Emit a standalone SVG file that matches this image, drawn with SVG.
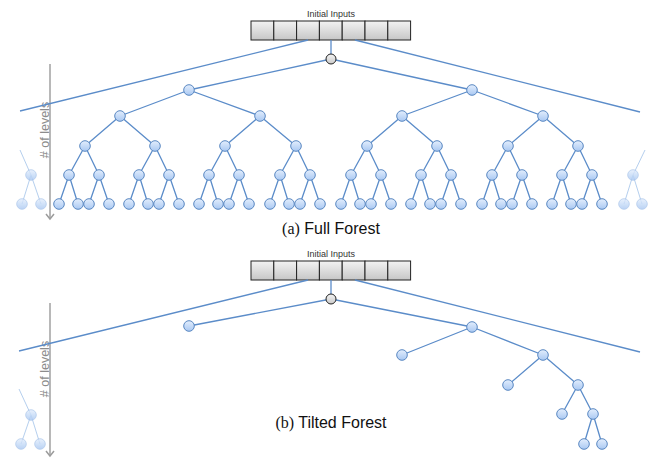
<svg xmlns="http://www.w3.org/2000/svg" width="659" height="459" viewBox="0 0 659 459">
<defs>
<linearGradient id="gNode" x1="0" y1="0" x2="0" y2="1"><stop offset="0" stop-color="#e3eefd"/><stop offset="1" stop-color="#a9c8f2"/></linearGradient>
<linearGradient id="gRoot" x1="0" y1="0" x2="0" y2="1"><stop offset="0" stop-color="#f4f4f4"/><stop offset="1" stop-color="#c9c9c9"/></linearGradient>
<linearGradient id="gBox" x1="0" y1="0" x2="0" y2="1"><stop offset="0" stop-color="#f3f3f3"/><stop offset="1" stop-color="#c6c6c6"/></linearGradient>
<marker id="arr" markerWidth="10" markerHeight="10" refX="8" refY="5" orient="auto" markerUnits="userSpaceOnUse" viewBox="0 0 10 10"><path d="M3,1 L8,5 L3,9" fill="none" stroke="#9c9c9c" stroke-width="1.5"/></marker>
</defs>
<style>
.e{stroke:#5b8cc9;stroke-width:1.3;fill:none}
.f{stroke:#b5cfee;stroke-width:1;fill:none}
.n{fill:url(#gNode);stroke:#5a88c2;stroke-width:1}
.nf{fill:url(#gNode);stroke:#a2c0e8;stroke-width:0.8;opacity:0.8}
.r{fill:url(#gRoot);stroke:#222;stroke-width:1}
.b{fill:url(#gBox);stroke:#222;stroke-width:1}
.t{font-family:"Liberation Sans",Arial,sans-serif;font-size:9px;fill:#333}
.lv{font-family:"Liberation Sans",Arial,sans-serif;font-size:12.5px;fill:#8c8c8c}
.ax{stroke:#a0a0a0;stroke-width:1.5;fill:none}
.cap{font-family:"Liberation Sans",Arial,sans-serif;font-size:16px;fill:#111}
.ser{font-family:"Liberation Serif","Times New Roman",serif}
</style>

<!-- ===== Panel (a) ===== -->
<g id="inputs-a">
<text class="t" x="331" y="16.5" text-anchor="middle">Initial Inputs</text>
<rect class="b" x="251" y="21" width="22.8" height="19"/>
<rect class="b" x="273.8" y="21" width="22.8" height="19"/>
<rect class="b" x="296.6" y="21" width="22.8" height="19"/>
<rect class="b" x="319.4" y="21" width="22.8" height="19"/>
<rect class="b" x="342.2" y="21" width="22.8" height="19"/>
<rect class="b" x="365" y="21" width="22.8" height="19"/>
<rect class="b" x="387.8" y="21" width="22.8" height="19"/>
</g>

<g id="axis-a">
<line class="ax" x1="50" y1="64" x2="50" y2="219" marker-end="url(#arr)"/>
<text class="lv" transform="translate(48.5,130) rotate(-90)" text-anchor="middle"># of levels</text>
</g>

<g id="connectors-a">
<line class="e" x1="308" y1="40" x2="20" y2="111"/>
<line class="e" x1="355" y1="40" x2="640" y2="112"/>
<line class="e" x1="331" y1="40" x2="331" y2="54"/>
<path class="e" d="M331,59 L189,90 M331,59 L472,90
M189,90 L120,116 M189,90 L260,116 M472,90 L402,116 M472,90 L543,116
M120,116 L85,146 M120,116 L155,146 M260,116 L225,146 M260,116 L296,146
M402,116 L367,146 M402,116 L437,146 M543,116 L508,146 M543,116 L578,146
M85,146 L69,175 M85,146 L99,175 M69,175 L59,204 M69,175 L78,204 M99,175 L89,204 M99,175 L109,204
M155,146 L139,175 M155,146 L169,175 M139,175 L129,204 M139,175 L148,204 M169,175 L159,204 M169,175 L179,204
M225,146 L209,175 M225,146 L239,175 M209,175 L199,204 M209,175 L218,204 M239,175 L229,204 M239,175 L249,204
M296,146 L280,175 M296,146 L310,175 M280,175 L270,204 M280,175 L289,204 M310,175 L300,204 M310,175 L320,204
M367,146 L351,175 M367,146 L381,175 M351,175 L341,204 M351,175 L360,204 M381,175 L371,204 M381,175 L391,204
M437,146 L421,175 M437,146 L451,175 M421,175 L411,204 M421,175 L430,204 M451,175 L441,204 M451,175 L461,204
M508,146 L492,175 M508,146 L522,175 M492,175 L482,204 M492,175 L501,204 M522,175 L512,204 M522,175 L532,204
M578,146 L562,175 M578,146 L592,175 M562,175 L552,204 M562,175 L571,204 M592,175 L582,204 M592,175 L602,204"/>
<path class="f" d="M31,175 L20,150 M31,175 L22,204 M31,175 L41,204 M633,175 L645,150 M633,175 L624,204 M633,175 L642,204"/>
</g>

<g id="nodes-a">
<circle class="r" cx="331" cy="59" r="5"/>
<g id="a-l1"><circle class="n" cx="189" cy="90" r="5.3"/><circle class="n" cx="472" cy="90" r="5.3"/></g>
<g id="a-l2"><circle class="n" cx="120" cy="116" r="5.3"/><circle class="n" cx="260" cy="116" r="5.3"/><circle class="n" cx="402" cy="116" r="5.3"/><circle class="n" cx="543" cy="116" r="5.3"/></g>
<g id="a-l3">
<circle class="n" cx="85" cy="146" r="5.3"/><circle class="n" cx="155" cy="146" r="5.3"/><circle class="n" cx="225" cy="146" r="5.3"/><circle class="n" cx="296" cy="146" r="5.3"/>
<circle class="n" cx="367" cy="146" r="5.3"/><circle class="n" cx="437" cy="146" r="5.3"/><circle class="n" cx="508" cy="146" r="5.3"/><circle class="n" cx="578" cy="146" r="5.3"/>
</g>
<g id="a-l4">
<circle class="n" cx="69" cy="175" r="5.3"/><circle class="n" cx="99" cy="175" r="5.3"/><circle class="n" cx="139" cy="175" r="5.3"/><circle class="n" cx="169" cy="175" r="5.3"/>
<circle class="n" cx="209" cy="175" r="5.3"/><circle class="n" cx="239" cy="175" r="5.3"/><circle class="n" cx="280" cy="175" r="5.3"/><circle class="n" cx="310" cy="175" r="5.3"/>
<circle class="n" cx="351" cy="175" r="5.3"/><circle class="n" cx="381" cy="175" r="5.3"/><circle class="n" cx="421" cy="175" r="5.3"/><circle class="n" cx="451" cy="175" r="5.3"/>
<circle class="n" cx="492" cy="175" r="5.3"/><circle class="n" cx="522" cy="175" r="5.3"/><circle class="n" cx="562" cy="175" r="5.3"/><circle class="n" cx="592" cy="175" r="5.3"/>
</g>
<g id="a-l5">
<circle class="n" cx="59" cy="204" r="5.3"/><circle class="n" cx="78" cy="204" r="5.3"/><circle class="n" cx="89" cy="204" r="5.3"/><circle class="n" cx="109" cy="204" r="5.3"/>
<circle class="n" cx="129" cy="204" r="5.3"/><circle class="n" cx="148" cy="204" r="5.3"/><circle class="n" cx="159" cy="204" r="5.3"/><circle class="n" cx="179" cy="204" r="5.3"/>
<circle class="n" cx="199" cy="204" r="5.3"/><circle class="n" cx="218" cy="204" r="5.3"/><circle class="n" cx="229" cy="204" r="5.3"/><circle class="n" cx="249" cy="204" r="5.3"/>
<circle class="n" cx="270" cy="204" r="5.3"/><circle class="n" cx="289" cy="204" r="5.3"/><circle class="n" cx="300" cy="204" r="5.3"/><circle class="n" cx="320" cy="204" r="5.3"/>
<circle class="n" cx="341" cy="204" r="5.3"/><circle class="n" cx="360" cy="204" r="5.3"/><circle class="n" cx="371" cy="204" r="5.3"/><circle class="n" cx="391" cy="204" r="5.3"/>
<circle class="n" cx="411" cy="204" r="5.3"/><circle class="n" cx="430" cy="204" r="5.3"/><circle class="n" cx="441" cy="204" r="5.3"/><circle class="n" cx="461" cy="204" r="5.3"/>
<circle class="n" cx="482" cy="204" r="5.3"/><circle class="n" cx="501" cy="204" r="5.3"/><circle class="n" cx="512" cy="204" r="5.3"/><circle class="n" cx="532" cy="204" r="5.3"/>
<circle class="n" cx="552" cy="204" r="5.3"/><circle class="n" cx="571" cy="204" r="5.3"/><circle class="n" cx="582" cy="204" r="5.3"/><circle class="n" cx="602" cy="204" r="5.3"/>
</g>
<g id="a-faded">
<circle class="nf" cx="31" cy="175" r="5.3"/><circle class="nf" cx="22" cy="204" r="5.3"/><circle class="nf" cx="41" cy="204" r="5.3"/>
<circle class="nf" cx="633" cy="175" r="5.3"/><circle class="nf" cx="624" cy="204" r="5.3"/><circle class="nf" cx="642" cy="204" r="5.3"/>
</g>
</g>

<text id="caption-a" class="cap" x="331" y="234" text-anchor="middle"><tspan class="ser">(a)</tspan> Full Forest</text>

<!-- ===== Panel (b) ===== -->
<g id="inputs-b">
<text class="t" x="331" y="256.5" text-anchor="middle">Initial Inputs</text>
<rect class="b" x="251" y="261" width="22.8" height="19"/>
<rect class="b" x="273.8" y="261" width="22.8" height="19"/>
<rect class="b" x="296.6" y="261" width="22.8" height="19"/>
<rect class="b" x="319.4" y="261" width="22.8" height="19"/>
<rect class="b" x="342.2" y="261" width="22.8" height="19"/>
<rect class="b" x="365" y="261" width="22.8" height="19"/>
<rect class="b" x="387.8" y="261" width="22.8" height="19"/>
</g>

<g id="axis-b">
<line class="ax" x1="50" y1="303" x2="50" y2="456" marker-end="url(#arr)"/>
<text class="lv" transform="translate(48.5,369) rotate(-90)" text-anchor="middle"># of levels</text>
</g>

<g id="connectors-b">
<line class="e" x1="308" y1="280" x2="19" y2="351"/>
<line class="e" x1="355" y1="280" x2="640" y2="352"/>
<line class="e" x1="331" y1="280" x2="331" y2="294"/>
<path class="e" d="M331,299 L189,326 M331,299 L472,327 M472,327 L402,355 M472,327 L543,355 M543,355 L508,385 M543,355 L578,385 M578,385 L562,414 M578,385 L593,414 M593,414 L584,444 M593,414 L602,444"/>
<path class="f" d="M31,415 L19,389 M31,415 L21,444 M31,415 L40,444"/>
</g>

<g id="nodes-b">
<circle class="r" cx="331" cy="299" r="5"/>
<circle class="n" cx="189" cy="326" r="5.3"/><circle class="n" cx="472" cy="327" r="5.3"/>
<circle class="n" cx="402" cy="355" r="5.3"/><circle class="n" cx="543" cy="355" r="5.3"/>
<circle class="n" cx="508" cy="385" r="5.3"/><circle class="n" cx="578" cy="385" r="5.3"/>
<circle class="n" cx="562" cy="414" r="5.3"/><circle class="n" cx="593" cy="414" r="5.3"/>
<circle class="n" cx="584" cy="444" r="5.3"/><circle class="n" cx="602" cy="444" r="5.3"/>
<g id="b-faded"><circle class="nf" cx="31" cy="415" r="5.3"/><circle class="nf" cx="21" cy="444" r="5.3"/><circle class="nf" cx="40" cy="444" r="5.3"/></g>
</g>

<text id="caption-b" class="cap" x="331" y="428" text-anchor="middle"><tspan class="ser">(b)</tspan> Tilted Forest</text>
</svg>
